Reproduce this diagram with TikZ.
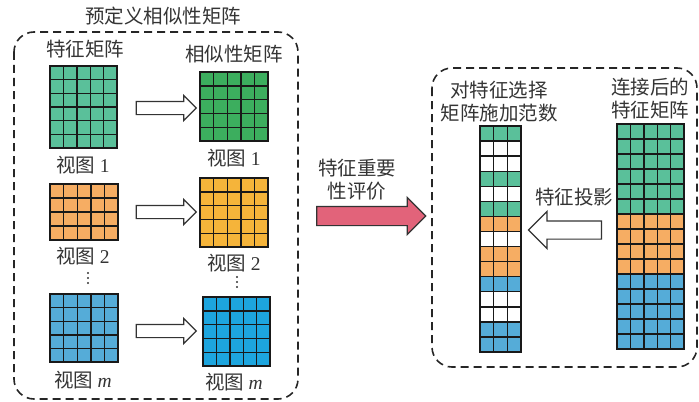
\documentclass[tikz,border=0pt]{standalone}
\usepackage{fontspec}
\setmainfont{Noto Sans CJK SC}
\newfontfamily\latin{Liberation Serif}
\usepackage{xcolor}
\definecolor{feat-green}{RGB}{90,192,154}
\definecolor{sim-green}{RGB}{60,174,94}
\definecolor{feat-orange}{RGB}{246,173,99}
\definecolor{sim-orange}{RGB}{245,180,58}
\definecolor{feat-blue}{RGB}{85,172,216}
\definecolor{sim-blue}{RGB}{29,165,222}
\definecolor{imp-red}{RGB}{226,99,122}
\definecolor{gray-800}{RGB}{52,52,52}
\usetikzlibrary{shapes.arrows,positioning,calc}

\begin{document}
\begin{tikzpicture}[
    x=0.5pt, y=-0.5pt,
    cell/.style={
        draw=black!90,
        line width=0.7pt
    },
    mat box/.style={
        rectangle,
        inner sep=0pt,
        outer sep=0pt
    },
    frame box/.style={
        draw=black!85,
        line width=0.8pt,
        dash pattern=on 4pt off 2.5pt,
        rounded corners=10pt
    },
    txt/.style={
        font=\fontsize{9.75}{11.5}\selectfont,
        text=gray-800,
        inner sep=0pt,
        align=center
    },
    hollow arrow/.style={
        single arrow,
        draw=black!80,
        line width=0.6pt,
        fill=white,
        inner xsep=0pt,
        inner ysep=3pt,
        minimum height=30pt,
        single arrow head extend=3pt,
        single arrow head indent=0pt
    }
]
\useasboundingbox (0,0) rectangle (699,401);

% Left frame - predefined similarity matrices
\draw[frame box] (14,32) rectangle (298,399);
\node[txt] (title) at (163,16) {预定义相似性矩阵};
\node[txt] (ftitle) at (85,49) {特征矩阵};
\node[txt] (stitle) at (234,54) {相似性矩阵};

% Feature matrices
\node[mat box, minimum width=33.5pt, minimum height=41pt] (f1) at (83.5,107) {};
\foreach \c in {0,...,4}
    \foreach \r in {0,...,5}
        \draw[cell, fill=feat-green] ($(f1.north west)+(\c*13.4,\r*13.67)$) rectangle ++(13.4,13.67);
\node[mat box, minimum width=34pt, minimum height=28pt] (f2) at (84,212) {};
\foreach \c in {0,...,4}
    \foreach \r in {0,...,3}
        \draw[cell, fill=feat-orange] ($(f2.north west)+(\c*13.6,\r*14)$) rectangle ++(13.6,14);
\node[mat box, minimum width=34pt, minimum height=34pt] (f3) at (84,328) {};
\foreach \c in {0,...,4}
    \foreach \r in {0,...,4}
        \draw[cell, fill=feat-blue] ($(f3.north west)+(\c*13.6,\r*13.6)$) rectangle ++(13.6,13.6);

% Similarity matrices
\node[mat box, minimum width=34pt, minimum height=34.5pt] (s1) at (234,106.5) {};
\foreach \c in {0,...,4}
    \foreach \r in {0,...,4}
        \draw[cell, fill=sim-green] ($(s1.north west)+(\c*13.6,\r*13.8)$) rectangle ++(13.6,13.8);
\node[mat box, minimum width=34pt, minimum height=34.5pt] (s2) at (234,212.5) {};
\foreach \c in {0,...,4}
    \foreach \r in {0,...,4}
        \draw[cell, fill=sim-orange] ($(s2.north west)+(\c*13.6,\r*13.8)$) rectangle ++(13.6,13.8);
\node[mat box, minimum width=33.5pt, minimum height=34.5pt] (s3) at (236.5,331.5) {};
\foreach \c in {0,...,4}
    \foreach \r in {0,...,4}
        \draw[cell, fill=sim-blue] ($(s3.north west)+(\c*13.4,\r*13.8)$) rectangle ++(13.4,13.8);

% View labels
\node[txt] (v1a) at (83,165) {视图 {\latin 1}};
\node[txt] (v2a) at (83,256) {视图 {\latin 2}};
\node[txt] (vma) at (83,380) {视图 {\latin\itshape m}};
\node[txt] (v1b) at (234,158) {视图 {\latin 1}};
\node[txt] (v2b) at (234,263) {视图 {\latin 2}};
\node[txt] (vmb) at (234,382) {视图 {\latin\itshape m}};

% Vertical dots
\foreach \d in {0,1,2} {
    \fill[gray-800] (88,273+\d*5) circle (0.6pt);
    \fill[gray-800] (237,277+\d*5) circle (0.6pt);
}

% Arrows feature -> similarity
\foreach \ay [count=\k] in {108,212,331}
    \node[hollow arrow] (a\k) at (163,\ay) {};

% Feature importance arrow
\node[txt] (imptxt) at (357,180) {特征重要\\性评价};
\node[hollow arrow, fill=imp-red, minimum height=54.5pt, inner ysep=4.5pt,
      single arrow head extend=4.5pt] (imp) at (366.5,216) {};

% Right frame - norm on selection matrix
\draw[frame box] (432,68) rectangle (697,367);
\node[txt] (seltxt) at (499,101.5) {对特征选择\\矩阵施加范数};
\node[txt] (cattxt) at (650,99) {连接后的\\特征矩阵};

% Selection matrix
\node[mat box, minimum width=20.5pt, minimum height=113pt] (sel) at (500.5,239) {};
\foreach \fc [count=\r from 0] in {feat-green,white,white,feat-green,white,feat-green,feat-orange,white,feat-orange,feat-orange,feat-blue,white,white,feat-blue,feat-blue}
    \foreach \c in {0,1,2}
        \draw[cell, fill=\fc] ($(sel.north west)+(\c*13.67,\r*15.07)$) rectangle ++(13.67,15.07);

% Concatenated feature matrix
\node[mat box, minimum width=33.5pt, minimum height=112.5pt] (cat) at (650.5,236.5) {};
\foreach \fc [count=\r from 0] in {feat-green,feat-green,feat-green,feat-green,feat-green,feat-green,feat-orange,feat-orange,feat-orange,feat-orange,feat-blue,feat-blue,feat-blue,feat-blue,feat-blue}
    \foreach \c in {0,...,4}
        \draw[cell, fill=\fc] ($(cat.north west)+(\c*13.4,\r*15)$) rectangle ++(13.4,15);

% Projection arrow
\node[txt] (projtxt) at (574,197) {特征投影};
\node[hollow arrow, shape border rotate=180, minimum height=36.5pt, inner ysep=4.25pt,
      single arrow head extend=4.75pt] (proj) at (569.5,230) {};

\end{tikzpicture}
\end{document}
